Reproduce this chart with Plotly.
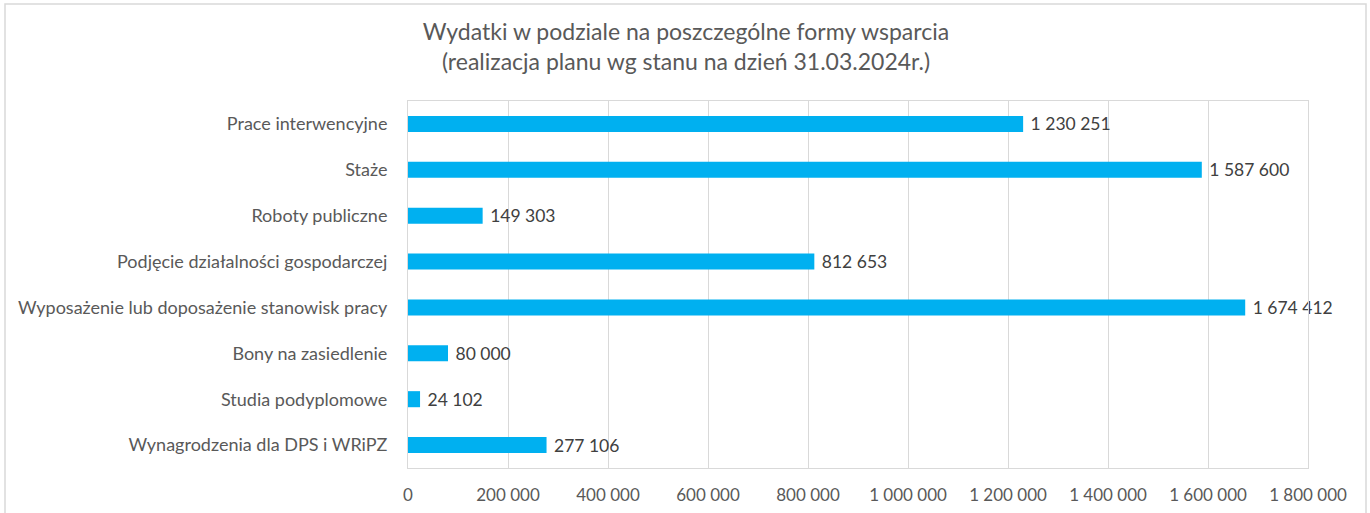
import plotly.graph_objects as go

categories = [
    "Prace interwencyjne",
    "Staże",
    "Roboty publiczne",
    "Podjęcie działalności gospodarczej",
    "Wyposażenie lub doposażenie stanowisk pracy",
    "Bony na zasiedlenie",
    "Studia podyplomowe",
    "Wynagrodzenia dla DPS i WRiPZ",
]
values = [1230251, 1587600, 149303, 812653, 1674412, 80000, 24102, 277106]
tick_vals = [0, 200000, 400000, 600000, 800000, 1000000, 1200000, 1400000, 1600000, 1800000]

FONT = "Lato"

fig = go.Figure(
    go.Bar(
        x=values,
        y=categories,
        orientation="h",
        marker=dict(color="#00B0F0", line=dict(width=0)),
        width=0.35,
        text=values,
        texttemplate="\u00a0%{x:,}",
        textposition="outside",
        constraintext="none",
        textfont=dict(family=FONT, size=17.5, color="#404040"),
        cliponaxis=False,
    )
)

W, H = 1370, 513
L, R, T, B = 408, 62, 101, 45
pw, ph = W - L - R, H - T - B

def px_x(x):
    return (x - L) / pw

def px_y(y):
    return (H - B - y) / ph

fig.add_shape(
    type="rect", xref="paper", yref="paper",
    x0=px_x(5), x1=px_x(1366), y0=px_y(530), y1=px_y(4),
    line=dict(color="#d9d9d9", width=1.5), fillcolor="rgba(0,0,0,0)", layer="below",
)

fig.update_layout(
    width=W, height=H,
    margin=dict(l=L, r=R, t=T, b=B, autoexpand=False),
    paper_bgcolor="white", plot_bgcolor="white",
    separators=", ",
    showlegend=False,
    title=dict(
        text="Wydatki w podziale na poszczególne formy wsparcia<br>(realizacja planu wg stanu na dzień 31.03.2024r.)",
        x=686 / W, xanchor="center",
        y=1 - 40 / H, yanchor="middle",
        font=dict(family=FONT, size=23, color="#595959"),
    ),
    xaxis=dict(
        range=[0, 1800000],
        tickvals=tick_vals,
        tickformat=",d",
        showgrid=True, gridcolor="#d9d9d9", gridwidth=1,
        zeroline=False,
        showline=True, linecolor="#d9d9d9", mirror=True,
        ticks="", ticklabelstandoff=12,
        tickfont=dict(family=FONT, size=17, color="#595959"),
        automargin=False,
    ),
    yaxis=dict(
        autorange="reversed",
        showgrid=False,
        showline=True, linecolor="#d9d9d9", mirror=True,
        ticks="", ticklabelstandoff=16,
        tickfont=dict(family=FONT, size=18, color="#595959"),
        automargin=False,
    ),
)

fig.write_html(
    "out.html",
    config={"displayModeBar": False},
    post_script="document.body.style.margin='0';",
)
